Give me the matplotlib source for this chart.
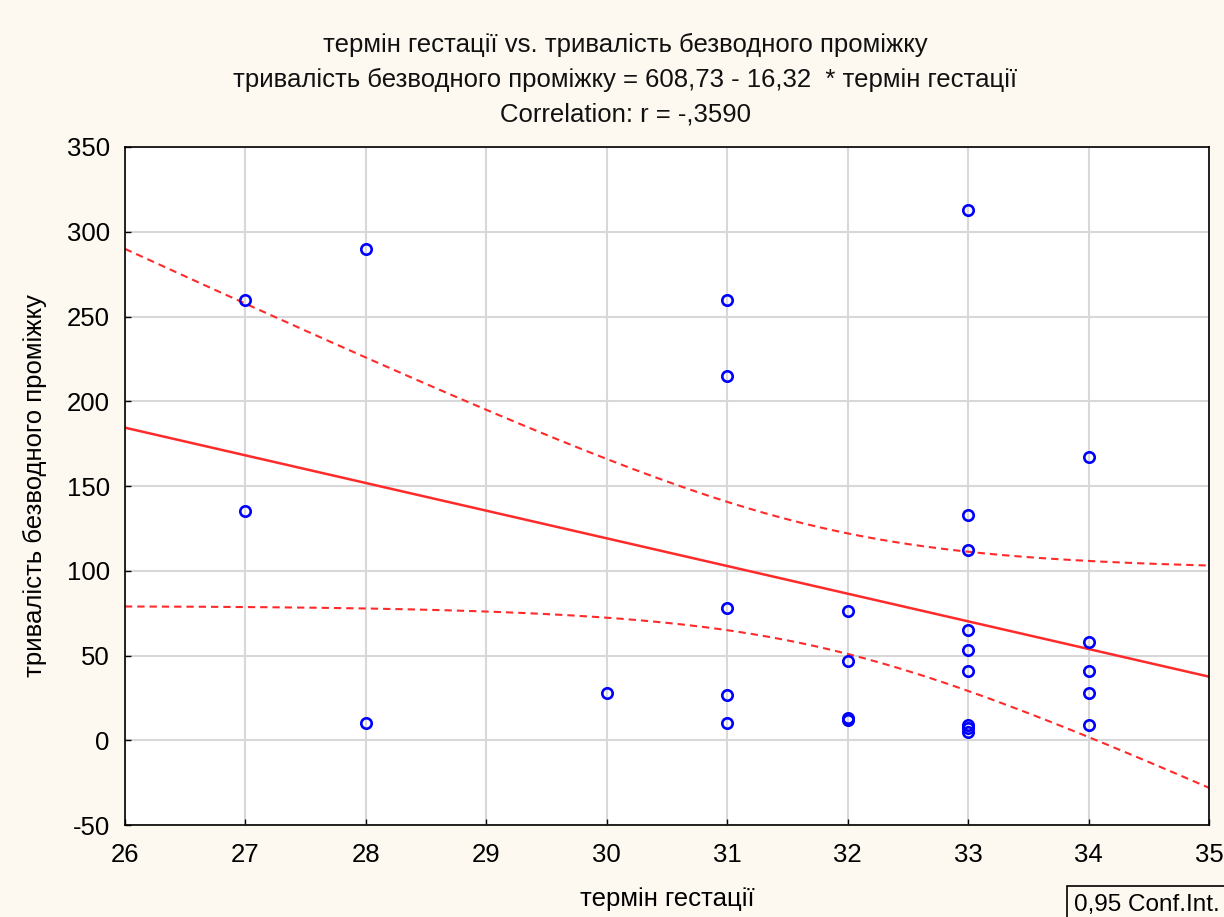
"""Scatter of gestation term vs. duration of the anhydrous interval, with
linear fit and 0.95 confidence band (Statistica-style)."""

import matplotlib
matplotlib.use("Agg")
import matplotlib.pyplot as plt
import numpy as np

# ---------------------------------------------------------------------------
# Data
# ---------------------------------------------------------------------------
gestation = [27, 27,
             28, 28,
             30,
             31, 31, 31, 31, 31,
             32, 32, 32, 32,
             33, 33, 33, 33, 33, 33, 33, 33, 33,
             34, 34, 34, 34, 34]
interval = [260, 135,
            290, 10,
            28,
            260, 215, 78, 27, 10,
            76, 47, 13, 12,
            313, 133, 112, 65, 53, 41, 9, 7, 5,
            167, 58, 41, 28, 9]

intercept = 608.73
slope = -16.32
t_crit = 2.056  # t(0.975, df=26)

x_ticks = list(range(26, 36))
y_ticks = list(range(-50, 351, 50))

title_lines = [
    "термін гестації vs. тривалість безводного проміжку",
    "тривалість безводного проміжку = 608,73 - 16,32  * термін гестації",
    "Correlation: r = -,3590",
]
x_label = "термін гестації"
y_label = "тривалість безводного проміжку"
legend_text = "0,95 Conf.Int."

# ---------------------------------------------------------------------------
# Style
# ---------------------------------------------------------------------------
plt.rcParams.update({
    "font.family": ["Liberation Sans", "DejaVu Sans"],
    "axes.unicode_minus": False,
})
BG = "#fdf9f0"
RED = "#ff2a2a"
BLUE = "#0000ff"
FS = 18.5

fig = plt.figure(figsize=(12.24, 9.17), dpi=100, facecolor=BG)
ax = fig.add_axes([0.1021, 0.1003, 0.8856, 0.7394])
ax.set_facecolor("white")

x = np.asarray(gestation, dtype=float)
y = np.asarray(interval, dtype=float)
n = len(x)

# fitted line and confidence band for the mean
xs = np.linspace(26, 35, 200)
fit = intercept + slope * xs
resid = y - (intercept + slope * x)
s = np.sqrt(np.sum(resid ** 2) / (n - 2))
sxx = np.sum((x - x.mean()) ** 2)
half = t_crit * s * np.sqrt(1.0 / n + (xs - x.mean()) ** 2 / sxx)

ax.grid(True, color="#d8d8d8", linewidth=1.5, zorder=0)
ax.plot(xs, fit, color=RED, linewidth=1.8, zorder=2)
ax.plot(xs, fit + half, color=RED, linewidth=1.5, linestyle=(0, (3.5, 2.4)), zorder=2)
ax.plot(xs, fit - half, color=RED, linewidth=1.5, linestyle=(0, (3.5, 2.4)), zorder=2)
ax.plot(x, y, linestyle="none", marker="o", markersize=7.5, markerfacecolor="none",
        markeredgecolor=BLUE, markeredgewidth=1.9, zorder=3)

ax.set_xlim(26, 35)
ax.set_ylim(-50, 350)
ax.set_xticks(x_ticks)
ax.set_yticks(y_ticks)
ax.tick_params(direction="in", length=4, width=1, labelsize=FS, pad=11,
               colors="black")
ax.tick_params(axis="x", pad=13)
for sp in ax.spines.values():
    sp.set_color("black")
    sp.set_linewidth(1.2)

ax.set_xlabel(x_label, fontsize=FS, labelpad=14)
ax.set_ylabel(y_label, fontsize=FS, labelpad=14)

for i, line in enumerate(title_lines):
    fig.text(0.511, 0.951 - i * 0.0382, line, ha="center", va="center",
             fontsize=FS, color="#111111")

fig.text(0.8775, 0.0135, legend_text, ha="left", va="center", fontsize=17.5,
         color="black",
         bbox=dict(boxstyle="square,pad=0.3", facecolor=BG, edgecolor="black",
                   linewidth=1.2))

fig.savefig("out.png", dpi=100, facecolor=BG)
